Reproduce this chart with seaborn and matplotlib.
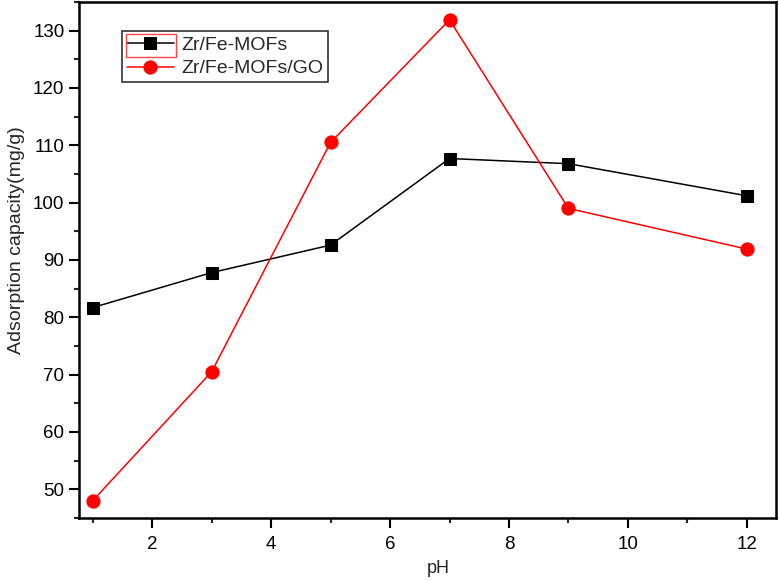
import matplotlib
matplotlib.use("Agg")
import matplotlib.pyplot as plt
import seaborn as sns
import pandas as pd
from matplotlib.ticker import MultipleLocator
from matplotlib.patches import Rectangle

ph = [1, 3, 5, 7, 9, 12]
mofs = [81.7, 87.8, 92.6, 107.7, 106.8, 101.2]
mofs_go = [48.0, 70.5, 110.5, 131.9, 99.0, 91.9]
series_names = ["Zr/Fe-MOFs", "Zr/Fe-MOFs/GO"]
x_ticks = [2, 4, 6, 8, 10, 12]
y_ticks = [50, 60, 70, 80, 90, 100, 110, 120, 130]

sns.set_style("ticks")
plt.rcParams['font.family'] = ['Liberation Sans', 'DejaVu Sans']

fig = plt.figure(figsize=(7.79, 5.80), dpi=100)
ax = fig.add_axes([79/779, 1-518/580, (776-79)/779, (518-2)/580])

df1 = pd.DataFrame({"pH": ph, "val": mofs})
df2 = pd.DataFrame({"pH": ph, "val": mofs_go})
sns.lineplot(data=df1, x="pH", y="val", ax=ax, color="black", lw=1.1,
             marker="s", markersize=9, markeredgecolor="black", label=series_names[0])
sns.lineplot(data=df2, x="pH", y="val", ax=ax, color="#ff0000", lw=1.1,
             marker="o", markersize=9.5, markeredgecolor="#ff0000", label=series_names[1])

ax.set_xlim(0.77, 12.49)
ax.set_ylim(45, 135)
ax.set_xticks(x_ticks)
ax.set_yticks(y_ticks)
ax.xaxis.set_minor_locator(MultipleLocator(1))
ax.yaxis.set_minor_locator(MultipleLocator(5))
ax.tick_params(which="major", direction="out", length=7, width=1.5, labelsize=13.5, colors="black")
ax.tick_params(axis="x", which="major", pad=6)
ax.tick_params(which="minor", direction="out", length=3.5, width=1.5)
for s in ax.spines.values():
    s.set_linewidth(1.8)
    s.set_color("black")
    s.set_visible(True)

ax.set_xlabel("pH", fontsize=13)
ax.set_ylabel("Adsorption capacity(mg/g)", fontsize=14)
ax.xaxis.set_label_coords(0.515, -0.082)
ax.yaxis.set_label_coords(-0.077, 0.539)

leg = ax.legend(loc="upper left", bbox_to_anchor=(0.062, 0.943), fontsize=14,
                frameon=True, fancybox=False, framealpha=1, borderpad=0.25,
                handlelength=2.4, handletextpad=0.4, labelspacing=0.3, borderaxespad=0)
leg.get_frame().set_edgecolor("#333333")
leg.get_frame().set_linewidth(1.2)

# red selection box around first legend handle
fig.canvas.draw()
r = fig.canvas.get_renderer()
lb = leg.get_window_extent(r)
tb = leg.get_texts()[0].get_window_extent(r)
x0 = lb.x0 + 4
x1 = tb.x0 - 6
y0 = tb.y0 - 3
y1 = tb.y1 + 3
fig.patches.append(Rectangle((x0 / 779, y0 / 580), (x1 - x0) / 779, (y1 - y0) / 580,
                             transform=fig.transFigure, fill=False,
                             edgecolor="#ff4444", linewidth=1.0, zorder=10))

fig.savefig("out.png", dpi=100)
